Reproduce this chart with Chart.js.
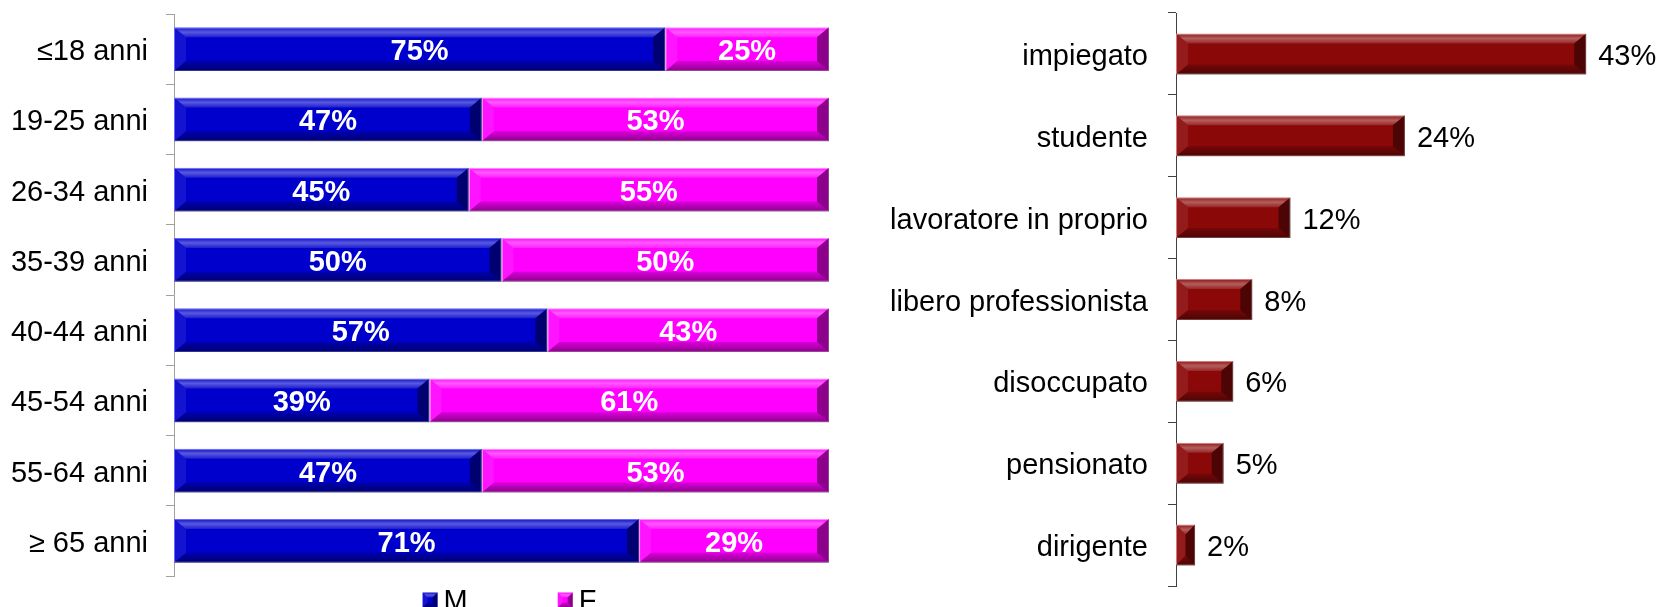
<!DOCTYPE html>
<html>
<head>
<meta charset="utf-8">
<script src="https://cdn.jsdelivr.net/npm/chart.js@4.4.0/dist/chart.umd.min.js"></script>
<style>
  html, body { margin: 0; padding: 0; background: #fff; overflow: hidden; }
  #wrapLeft { position: absolute; left: 0; top: 0; width: 840px; height: 607px; }
  #wrapRight { position: absolute; left: 850px; top: 0; width: 811px; height: 607px; }
</style>
</head>
<body>
<div id="wrapLeft"><canvas id="ageChart"></canvas></div>
<div id="wrapRight"><canvas id="jobChart"></canvas></div>
<script>
let ageGroups = ['≤18 anni', '19-25 anni', '26-34 anni', '35-39 anni', '40-44 anni', '45-54 anni', '55-64 anni', '≥ 65 anni'];
let maleShare = [75, 47, 45, 50, 57, 39, 47, 71];
let femaleShare = [25, 53, 55, 50, 43, 61, 53, 29];

let jobs = ['impiegato', 'studente', 'lavoratore in proprio', 'libero professionista', 'disoccupato', 'pensionato', 'dirigente'];
let jobShare = [43, 24, 12, 8, 6, 5, 2];

let fontFamily = "'Liberation Sans', Arial, sans-serif";
let fontSize = 29;
Chart.defaults.font.family = fontFamily;
Chart.defaults.font.size = fontSize;
Chart.defaults.color = '#000';
Chart.defaults.animation = false;

function poly(c, pts, fill) {
  c.beginPath();
  c.moveTo(pts[0][0], pts[0][1]);
  for (let k = 1; k < pts.length; k++) c.lineTo(pts[k][0], pts[k][1]);
  c.closePath();
  c.fillStyle = fill;
  c.fill();
}

// excel-ish bevel on top of a rectangle
function drawBevel(c, L, T, R, B, bxMax, byMax) {
  let bx = Math.min(bxMax, (R - L) / 2), by = Math.min(byMax, (B - T) / 2);
  let g = c.createLinearGradient(0, T, 0, T + by);
  g.addColorStop(0, 'rgba(255,255,255,0.05)');
  g.addColorStop(0.5, 'rgba(255,255,255,0.35)');
  g.addColorStop(1, 'rgba(255,255,255,0.12)');
  poly(c, [[L, T], [R, T], [R - bx, T + by], [L + bx, T + by]], g);
  let g2 = c.createLinearGradient(0, B - by, 0, B);
  g2.addColorStop(0, 'rgba(0,0,0,0.15)');
  g2.addColorStop(1, 'rgba(0,0,0,0.45)');
  poly(c, [[L, B], [R, B], [R - bx, B - by], [L + bx, B - by]], g2);
  poly(c, [[L, T], [L + bx, T + by], [L + bx, B - by], [L, B]], 'rgba(255,255,255,0.08)');
  poly(c, [[R, T], [R - bx, T + by], [R - bx, B - by], [R, B]], 'rgba(0,0,0,0.45)');
}

let bevelPlugin = {
  id: 'bevel',
  afterDatasetsDraw(chart) {
    let c = chart.ctx;
    c.save();
    chart.data.datasets.forEach((ds, i) => {
      chart.getDatasetMeta(i).data.forEach(bar => {
        let p = bar.getProps(['x', 'y', 'base', 'height'], true);
        let L = Math.min(p.x, p.base), R = Math.max(p.x, p.base);
        drawBevel(c, L, p.y - p.height / 2, R, p.y + p.height / 2, 12, 10);
      });
    });
    c.restore();
  }
};

let centerLabels = {
  id: 'centerLabels',
  afterDatasetsDraw(chart) {
    let c = chart.ctx;
    c.save();
    c.font = 'bold ' + fontSize + 'px ' + fontFamily;
    c.fillStyle = '#fff';
    c.textAlign = 'center';
    c.textBaseline = 'middle';
    chart.data.datasets.forEach((ds, i) => {
      chart.getDatasetMeta(i).data.forEach((bar, j) => {
        let p = bar.getProps(['x', 'y', 'base'], true);
        c.fillText(ds.data[j] + '%', (p.x + p.base) / 2, p.y + 3);
      });
    });
    c.restore();
  }
};

let endLabels = {
  id: 'endLabels',
  afterDatasetsDraw(chart) {
    let c = chart.ctx;
    c.save();
    c.font = fontSize + 'px ' + fontFamily;
    c.fillStyle = '#000';
    c.textAlign = 'left';
    c.textBaseline = 'middle';
    let ds = chart.data.datasets[0];
    chart.getDatasetMeta(0).data.forEach((bar, j) => {
      let p = bar.getProps(['x', 'y'], true);
      c.fillText(ds.data[j] + '%', p.x + 12, p.y + 3);
    });
    c.restore();
  }
};

let bottomLegend = {
  id: 'bottomLegend',
  afterDraw(chart) {
    let c = chart.ctx, a = chart.chartArea;
    c.save();
    c.font = fontSize + 'px ' + fontFamily;
    c.textBaseline = 'middle';
    c.textAlign = 'left';
    let items = chart.data.datasets.map(ds => ({ text: ds.label, color: ds.backgroundColor }));
    let box = 15, gap = 6, spacing = 90;
    let total = 0;
    items.forEach((it, k) => { total += box + gap + c.measureText(it.text).width + (k ? spacing : 0); });
    let x = (a.left + a.right) / 2 + 8 - total / 2;
    let yc = a.bottom + 24;
    items.forEach(it => {
      let T = yc - box / 2;
      c.fillStyle = it.color;
      c.fillRect(x, T, box, box);
      drawBevel(c, x, T, x + box, T + box, 5, 5);
      c.fillStyle = '#000';
      c.fillText(it.text, x + box + gap, yc + 2);
      x += box + gap + c.measureText(it.text).width + spacing;
    });
    c.restore();
  }
};

// fixed axis width, no extra label padding above/below the plot
function fixAxis(width) {
  return function (scale) {
    scale.width = width;
    scale.paddingTop = 0;
    scale.paddingBottom = 0;
  };
}

new Chart(document.getElementById('ageChart'), {
  type: 'bar',
  data: {
    labels: ageGroups,
    datasets: [
      { label: 'M', data: maleShare, backgroundColor: '#0000cc', borderColor: '#5a5aff', borderWidth: 1, borderSkipped: false },
      { label: 'F', data: femaleShare, backgroundColor: '#ff00ff', borderColor: '#ff80ff', borderWidth: 1, borderSkipped: false }
    ]
  },
  options: {
    indexAxis: 'y',
    responsive: true,
    maintainAspectRatio: false,
    layout: { padding: { top: 14, right: 11, bottom: 31, left: 0 } },
    datasets: { bar: { barPercentage: 0.626, categoryPercentage: 1 } },
    plugins: { legend: { display: false }, tooltip: { enabled: false } },
    scales: {
      x: { stacked: true, min: 0, max: 100, display: false },
      y: {
        stacked: true,
        afterFit: fixAxis(174),
        grid: { offset: true, drawOnChartArea: false, tickLength: 8, color: '#a0a0a0' },
        border: { display: true, color: '#a0a0a0', width: 1 },
        ticks: { padding: 18, labelOffset: 3, color: '#000', font: { size: fontSize } }
      }
    }
  },
  plugins: [bevelPlugin, centerLabels, bottomLegend]
});

new Chart(document.getElementById('jobChart'), {
  type: 'bar',
  data: {
    labels: jobs,
    datasets: [
      { label: 'occupazione', data: jobShare, backgroundColor: '#8a0808', borderColor: '#d07070', borderWidth: 1, borderSkipped: false }
    ]
  },
  options: {
    indexAxis: 'y',
    responsive: true,
    maintainAspectRatio: false,
    layout: { padding: { top: 13, right: 8, bottom: 21, left: 0 } },
    datasets: { bar: { barPercentage: 0.5, categoryPercentage: 1 } },
    plugins: { legend: { display: false }, tooltip: { enabled: false } },
    scales: {
      x: { min: 0, max: 50, display: false },
      y: {
        afterFit: fixAxis(326),
        grid: { offset: true, drawOnChartArea: false, tickLength: 8, color: '#404040' },
        border: { display: true, color: '#404040', width: 1 },
        ticks: { padding: 20, labelOffset: 3, color: '#000', font: { size: fontSize } }
      }
    }
  },
  plugins: [bevelPlugin, endLabels]
});
</script>
</body>
</html>
